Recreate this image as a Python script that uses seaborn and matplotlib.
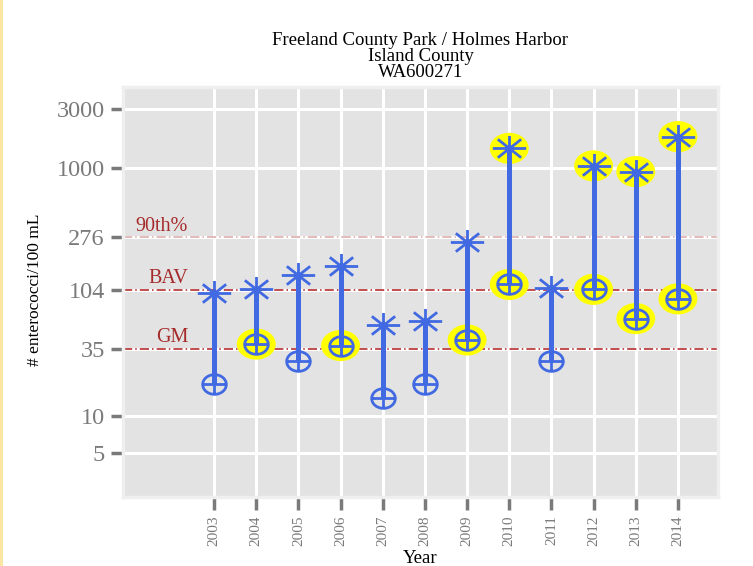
import numpy as np
import pandas as pd
import matplotlib
matplotlib.use("Agg")
import matplotlib.pyplot as plt
from matplotlib.path import Path
from matplotlib.patches import Rectangle
import seaborn as sns

# ---- data ----
years = [2003, 2004, 2005, 2006, 2007, 2008, 2009, 2010, 2011, 2012, 2013, 2014]
max_vals = [98, 106, 137, 163, 54, 58, 253, 1440, 108, 1040, 935, 1790]
min_vals = [18, 38, 28, 37, 14, 18, 41, 115, 28, 105, 61, 88]
ref_names = ["90th%", "BAV", "GM"]
ref_values = [276, 104, 35]
y_ticks = [5, 10, 35, 104, 276, 1000, 3000]
title_lines = ["Freeland County Park / Holmes Harbor", "Island County", "WA600271"]

df = pd.DataFrame({"year": years, "max": max_vals, "min": min_vals})

sns.set_theme(style="darkgrid")
plt.rcParams["font.family"] = ["Liberation Serif", "DejaVu Serif"]

fig = plt.figure(figsize=(7.53, 5.66), dpi=100)
fig.patches.append(Rectangle((0, 0), 0.004, 1, transform=fig.transFigure,
                             facecolor="#FCE6A4", edgecolor="none"))
ax = fig.add_axes([123 / 753, 1 - 497 / 566, 595 / 753, 410 / 566])
ax.set_facecolor("#E3E3E3")
for s in ax.spines.values():
    s.set_visible(True)
    s.set_color("#EFEFEF")
    s.set_linewidth(2.5)

ax.set_yscale("log")
ax.set_ylim(2.22, 4500)
ax.set_xlim(2000.84, 2014.95)
ax.set_xticks(years)
ax.set_xticklabels([str(y) for y in years], rotation=90, fontsize=11, color="#7A7A7A")
ax.set_yticks(y_ticks)
ax.set_yticklabels([str(v) for v in y_ticks], fontsize=17.5, color="#7A7A7A")
ax.yaxis.set_minor_locator(matplotlib.ticker.NullLocator())
ax.grid(True, which="major", color="white", linewidth=2.2)
ax.set_axisbelow(True)
ax.tick_params(axis="both", which="major", length=9, width=2.5, color="#7A7A7A",
               direction="out", pad=4, bottom=True, left=True)

# reference lines
ref_colors = ["#DBA7A7", "#B01E1E", "#B01E1E"]
ref_x = [0.0655, 0.0756, 0.0824]
for name, val, col, xf in zip(ref_names, ref_values, ref_colors, ref_x):
    ax.axhline(val, color=col, linewidth=1.1, linestyle=(0, (6, 2, 1, 2)), zorder=1.5)
    ax.annotate(name, xy=(xf, val), xycoords=("axes fraction", "data"),
                xytext=(0, 1), textcoords="offset points", ha="center", va="bottom",
                fontsize=14.5, color="#A52A2A")

# yellow highlights
hi_max = df[df["max"] > ref_values[0]]
hi_min = df[df["min"] > ref_values[2]]
ell = Path.unit_circle()
ell = Path(ell.vertices * np.array([1.25, 1.0]), ell.codes)
hl = pd.concat([pd.DataFrame({"year": hi_max["year"], "v": hi_max["max"]}),
                pd.DataFrame({"year": hi_min["year"], "v": hi_min["min"]})])
sns.scatterplot(data=hl, x="year", y="v", marker=ell, s=28 ** 2, color="#FFFF00",
                edgecolor="none", linewidth=0, ax=ax, zorder=2, legend=False)

# segments
blue = "#4169E1"
ax.vlines(df["year"], df["min"], df["max"], color=blue, linewidth=3.6, zorder=3)

# asterisk marker
ast_v = [(-0.6, 0), (0.6, 0), (0, -0.45), (0, 0.45),
         (-0.42, -0.33), (0.42, 0.33), (-0.42, 0.33), (0.42, -0.33)]
ast_c = [Path.MOVETO, Path.LINETO] * 4
ast = Path(ast_v, ast_c)
ax.plot(df["year"], df["max"], linestyle="none", marker=ast, markersize=24,
        markeredgecolor=blue, markerfacecolor="none", markeredgewidth=2.0, zorder=4)

# circle-plus marker
circ = Path.unit_circle()
cv = circ.vertices * np.array([0.6, 0.5])
verts = list(cv) + [(-0.6, 0), (0.6, 0), (0, -0.5), (0, 0.5)]
codes = list(circ.codes) + [Path.MOVETO, Path.LINETO, Path.MOVETO, Path.LINETO]
cplus = Path(verts, codes)
ax.plot(df["year"], df["min"], linestyle="none", marker=cplus, markersize=17,
        markeredgecolor=blue, markerfacecolor="none", markeredgewidth=2.0, zorder=4)

ax.set_xlabel("Year", fontsize=13.5, color="black", va="center")
ax.xaxis.set_label_coords(0.5, -0.149)
ax.set_ylabel("# enterococci/100 mL", fontsize=12.5, color="black", va="center")
ax.yaxis.set_label_coords(-0.148, 0.505)
ax.set_title("\n".join(title_lines), fontsize=13.5, color="black", linespacing=0.93, pad=7)

fig.savefig("out.png", dpi=100)
